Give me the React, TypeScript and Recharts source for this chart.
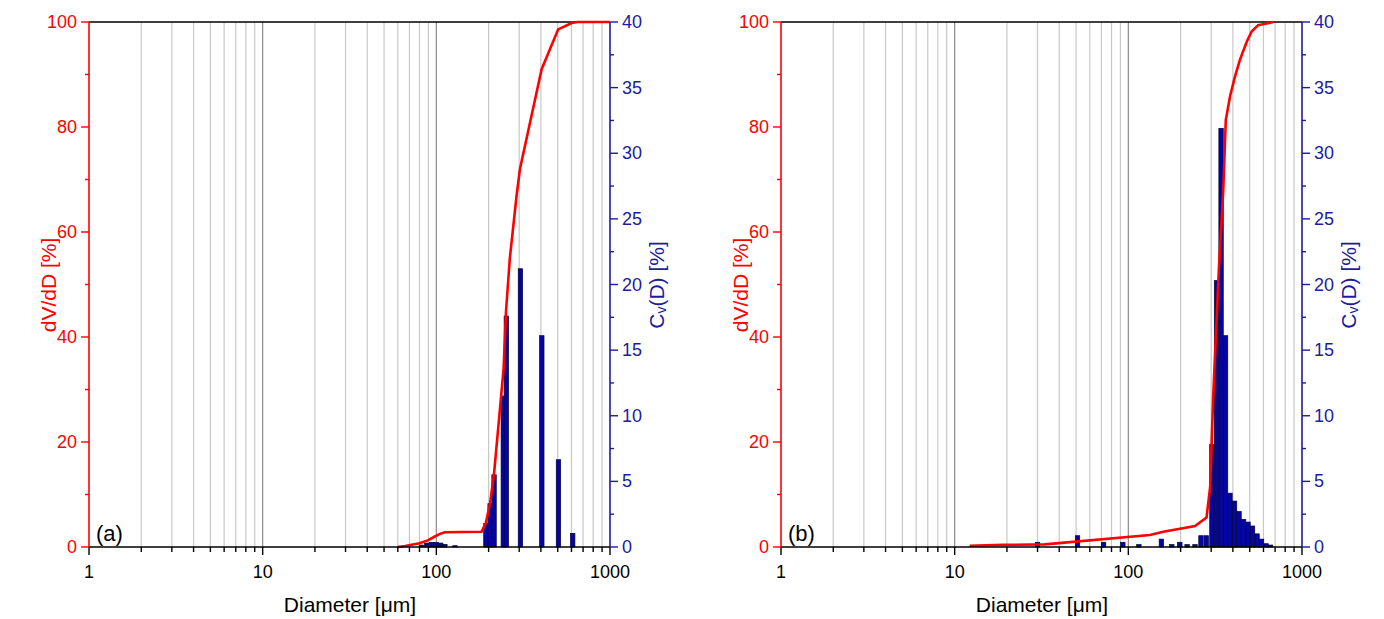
import React from 'react';
import { ComposedChart, Bar, Line, XAxis, YAxis, CartesianGrid } from 'recharts';

const FONT = '"Liberation Sans", Arial, sans-serif';
const RED = '#ff0000';
const BLUE = '#1c1c9c';

// axis ticks
const diameterTicks = [
  1, 2, 3, 4, 5, 6, 7, 8, 9, 10, 20, 30, 40, 50, 60, 70, 80, 90, 100, 200, 300, 400, 500, 600, 700, 800, 900, 1000,
];
const diameterLabels = [1, 10, 100, 1000];
const minorGrid = [2, 3, 4, 5, 6, 7, 8, 9, 20, 30, 40, 50, 60, 70, 80, 90, 200, 300, 400, 500, 600, 700, 800, 900];
const decadeGrid = [10, 100];
const leftTicks = [0, 10, 20, 30, 40, 50, 60, 70, 80, 90, 100];
const leftLabels = [0, 20, 40, 60, 80, 100];
const rightTicks = [0, 2.5, 5, 7.5, 10, 12.5, 15, 17.5, 20, 22.5, 25, 27.5, 30, 32.5, 35, 37.5, 40];
const rightLabels = [0, 5, 10, 15, 20, 25, 30, 35, 40];

// (a) Cv(D) bars
const barDiamA = [82, 88, 94, 100, 106, 112, 128, 193, 204, 215, 243, 253, 305, 405, 505, 610];
const barCvA = [0.15, 0.3, 0.35, 0.35, 0.3, 0.2, 0.1, 1.8, 3.3, 5.5, 11.5, 17.6, 21.2, 16.1, 6.65, 1.04];
// (a) red curve
const lineDiamA = [60, 66, 80, 90, 98, 105, 112, 182, 193, 204, 215, 232, 244, 252, 265, 290, 303, 404, 503, 601, 650, 1000];
const lineValA = [0, 0.2, 0.7, 1.3, 2.0, 2.5, 2.8, 2.9, 4.6, 8.4, 14, 26, 34, 45, 55, 67, 72, 91, 98.6, 99.8, 100, 100];

// (b) Cv(D) bars
const barDiamB = [
  30, 51, 72, 93, 115, 155, 178, 198, 218, 242, 262, 281, 303, 322, 342, 363, 385, 409, 434, 461, 489, 519, 551, 585, 621, 659,
];
const barCvB = [
  0.36, 0.86, 0.36, 0.36, 0.18, 0.6, 0.18, 0.36, 0.18, 0.18, 0.86, 0.86, 7.8, 20.3, 31.9, 16.1, 4.1, 3.5, 2.7, 2.1, 1.9, 1.6,
  1.0, 0.6, 0.25, 0.15,
];
// (b) red curve
const lineDiamB = [12.2, 19, 33, 133, 159, 242, 282, 296, 308, 332, 352, 364, 385, 411, 439, 480, 513, 559, 625, 683];
const lineValB = [0.25, 0.4, 0.5, 2.3, 2.9, 4.0, 5.6, 11.5, 28.6, 52.8, 68, 81.3, 85.8, 89.6, 92.8, 96.2, 98.2, 99.4, 99.7, 100];

const W = 692;
const H = 619;

const XTick = (props: any) => {
  const { x, y, payload } = props;
  const major = diameterLabels.includes(payload.value);
  return (
    <g>
      <line x1={x} x2={x} y1={y} y2={y + (major ? 8 : 5)} stroke="#000" strokeWidth={1.4} />
      {major && (
        <text x={x} y={y + 25} textAnchor="middle" dominantBaseline="central" fontSize={18} fill="#000" fontFamily={FONT}>
          {payload.value}
        </text>
      )}
    </g>
  );
};

const LeftTick = (props: any) => {
  const { x, y, payload } = props;
  const major = leftLabels.includes(payload.value);
  return (
    <g>
      <line x1={x - (major ? 8 : 4)} x2={x} y1={y} y2={y} stroke={RED} strokeWidth={1.4} />
      {major && (
        <text x={x - 12} y={y} textAnchor="end" dominantBaseline="central" fontSize={18} fill={RED} fontFamily={FONT}>
          {payload.value}
        </text>
      )}
    </g>
  );
};

const RightTick = (props: any) => {
  const { x, y, payload } = props;
  const major = rightLabels.includes(payload.value);
  return (
    <g>
      <line x1={x} x2={x + (major ? 8 : 4)} y1={y} y2={y} stroke={BLUE} strokeWidth={1.4} />
      {major && (
        <text x={x + 12} y={y} textAnchor="start" dominantBaseline="central" fontSize={18} fill={BLUE} fontFamily={FONT}>
          {payload.value}
        </text>
      )}
    </g>
  );
};

const CvBar = (props: any) => {
  const { x, y, width, height } = props;
  if (height == null || height <= 0) return null;
  const cx = x + width / 2;
  return <rect x={cx - 2.2} y={y} width={4.4} height={height} fill="#0505a5" stroke="#000033" strokeWidth={0.7} />;
};

function Panel({ barDiam, barCv, lineDiam, lineVal }: any) {
  const bars = barDiam.map((d: number, i: number) => ({ d, cv: barCv[i] }));
  const curve = lineDiam.map((d: number, i: number) => ({ d, v: lineVal[i] }));
  return (
    <ComposedChart width={W} height={H} data={bars} margin={{ top: 22, right: 0, left: 0, bottom: 0 }}>
      <CartesianGrid horizontal={false} verticalValues={minorGrid} stroke="#c8c8c8" strokeWidth={1.2} xAxisId="x" yAxisId="l" />
      <CartesianGrid horizontal={false} verticalValues={decadeGrid} stroke="#8a8a8a" strokeWidth={1.2} xAxisId="x" yAxisId="l" />
      <CartesianGrid vertical={false} horizontalValues={[100]} stroke="#000" strokeWidth={1.5} xAxisId="x" yAxisId="l" />
      <XAxis
        xAxisId="x"
        dataKey="d"
        type="number"
        scale="log"
        domain={[1, 1000]}
        ticks={diameterTicks}
        interval={0}
        allowDataOverflow
        height={72}
        tickSize={0}
        tickMargin={0}
        tick={<XTick />}
        axisLine={{ stroke: '#000', strokeWidth: 1.5 }}
        tickLine={false}
      />
      <YAxis
        yAxisId="l"
        orientation="left"
        type="number"
        domain={[0, 100]}
        ticks={leftTicks}
        interval={0}
        width={89}
        tickSize={0}
        tickMargin={0}
        tick={<LeftTick />}
        axisLine={{ stroke: RED, strokeWidth: 1.6 }}
        tickLine={false}
      />
      <YAxis
        yAxisId="r"
        orientation="right"
        type="number"
        domain={[0, 40]}
        ticks={rightTicks}
        interval={0}
        width={82}
        tickSize={0}
        tickMargin={0}
        tick={<RightTick />}
        axisLine={{ stroke: BLUE, strokeWidth: 1.6 }}
        tickLine={false}
      />
      <Bar xAxisId="x" yAxisId="r" dataKey="cv" barSize={4} shape={<CvBar />} isAnimationActive={false} />
      <Line
        xAxisId="x"
        yAxisId="l"
        data={curve}
        dataKey="v"
        type="linear"
        stroke={RED}
        strokeWidth={2.6}
        dot={false}
        activeDot={false}
        isAnimationActive={false}
      />
    </ComposedChart>
  );
}

function Titles({ dx, tag }: { dx: number; tag: string }) {
  return (
    <g fontFamily={FONT}>
      <text transform={`translate(${dx + 48},285) rotate(-90)`} textAnchor="middle" dominantBaseline="central" fontSize={21} fill={RED}>
        dV/dD [%]
      </text>
      <text transform={`translate(${dx + 656},285) rotate(-90)`} textAnchor="middle" dominantBaseline="central" fontSize={21} fill={BLUE}>
        <tspan>C</tspan>
        <tspan fontSize={14} dy={5}>v</tspan>
        <tspan dy={-5}>(D) [%]</tspan>
      </text>
      <text x={dx + 350} y={612} textAnchor="middle" fontSize={21} fill="#000">
        Diameter [μm]
      </text>
      <text x={dx + 96} y={541} fontSize={22} fill="#000">
        {tag}
      </text>
    </g>
  );
}

export default function App() {
  return (
    <div style={{ position: 'absolute', left: 0, top: 0, width: 1384, height: 619, background: '#fff', fontFamily: FONT }}>
      <div style={{ position: 'absolute', left: 0, top: 0 }}>
        <Panel barDiam={barDiamA} barCv={barCvA} lineDiam={lineDiamA} lineVal={lineValA} />
      </div>
      <div style={{ position: 'absolute', left: 692, top: 0 }}>
        <Panel barDiam={barDiamB} barCv={barCvB} lineDiam={lineDiamB} lineVal={lineValB} />
      </div>
      <svg width={1384} height={619} style={{ position: 'absolute', left: 0, top: 0, pointerEvents: 'none' }}>
        <Titles dx={0} tag="(a)" />
        <Titles dx={692} tag="(b)" />
      </svg>
    </div>
  );
}
